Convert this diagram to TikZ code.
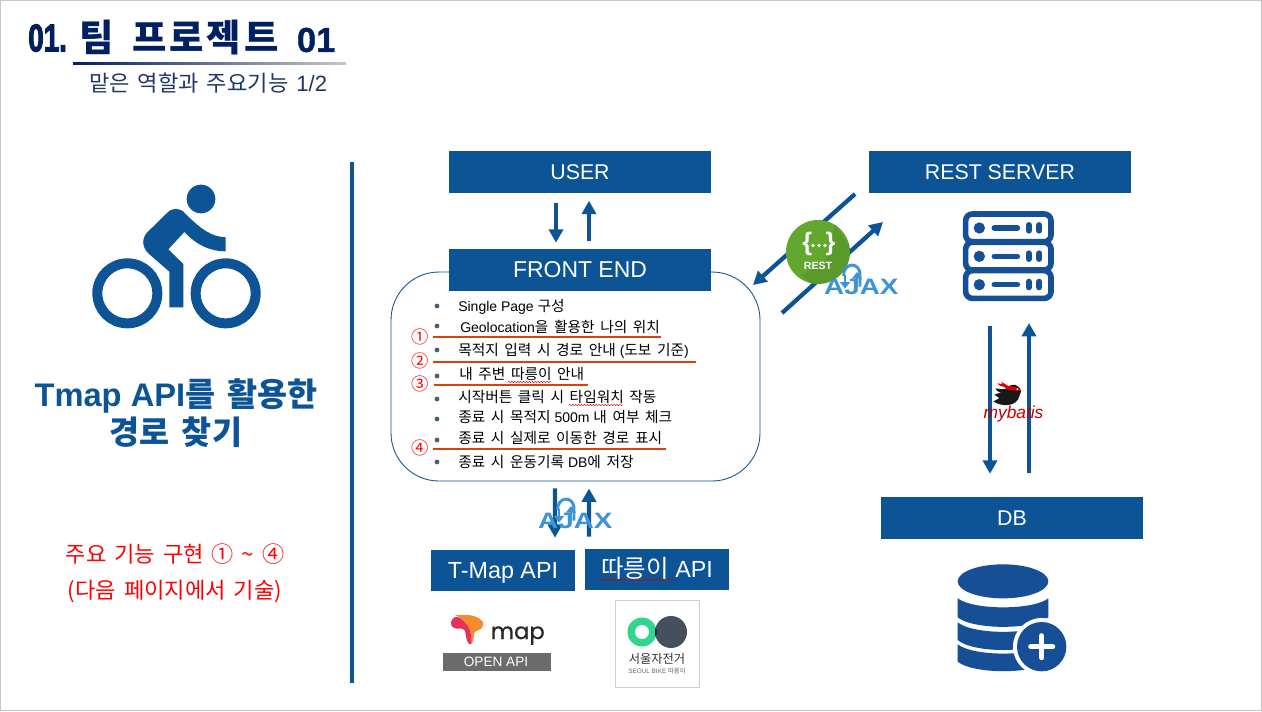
\documentclass[tikz,border=0pt]{standalone}
\usepackage{fontspec}
\usepackage{graphicx}
\usetikzlibrary{arrows.meta,decorations.pathmorphing}
\setmainfont{Liberation Sans}
\newfontfamily\krf{Noto Sans CJK KR}[WordSpace=1.6]
\newfontfamily\lkf{Noto Sans CJK KR}[WordSpace=1.7,Scale=1.05]
\newfontfamily\ttl{Noto Sans CJK KR}[WordSpace=1.6,LetterSpace=8]
\newfontfamily\numf{Liberation Sans}[UprightFont=* Bold,FakeBold=3]
\newfontfamily\pop{Poppins}[FakeBold=.5]
\newcommand\K[1]{{\lkf #1}}
\definecolor{bl}{HTML}{0C5496}
\definecolor{navy}{HTML}{002060}
\definecolor{sub}{HTML}{1F3864}
\definecolor{ora}{HTML}{D9420F}
\definecolor{ajx}{HTML}{3D93D6}
\definecolor{dbb}{HTML}{164F96}
\definecolor{bul}{HTML}{4A6070}
\tikzset{
  hbox/.style={fill=bl,text=white,inner sep=0,minimum height=31.5pt,text height=11.5pt,text depth=0pt,font=\fontsize{16}{18}\selectfont},
  item/.style={anchor=west,inner sep=0,font=\fontsize{10.5}{12}\selectfont,text=black},
  circ/.style={inner sep=0,text=red,font=\krf\fontsize{13}{14}\selectfont},
  arr/.style={draw=bl,line width=3.2pt,-{Triangle[width=10.5pt,length=10pt]}},
  oline/.style={draw=ora,line width=1.5pt},
  wav/.style={draw=red!80!black,line width=.35pt,decorate,decoration={snake,amplitude=.45pt,segment length=2.2pt}},
  pics/ajaxlogo/.style={code={
    \begin{scope}[x=.25pt,y=-.25pt]
      \node[inner sep=0,anchor=base,text=ajx,font=\bfseries\fontsize{16.7}{18}\selectfont] (-t) at (364,312) {\scalebox{1.25}[1]{AJAX}};
      \draw[ajx,line width=2.2pt] (311,258) .. controls (308,218) and (360,212) .. (360,255) -- (360,290);
      \draw[ajx,line width=1.8pt,-{Triangle[width=7.5pt,length=5pt]}] (315,254) -- (315,296);
      \draw[ajx,line width=1.8pt,-{Triangle[width=7.5pt,length=5pt]}] (351,292) -- (351,246);
    \end{scope}}}
}
\begin{document}
\begin{tikzpicture}[x=.75pt,y=-.75pt]
\useasboundingbox (0,0) rectangle (1262,711);
\fill[white] (0,0) rectangle (1262,711);
\draw[black!22,line width=.8pt] (.6,.6) rectangle (1261.4,710.4);

% title
\node[anchor=west,inner sep=0,text=navy,font=\numf\fontsize{29}{30}\selectfont] (num) at (28,38) {\scalebox{.72}[1]{01.}};
\node[anchor=west,inner sep=0,text=navy,font=\ttl\bfseries\fontsize{28}{30}\selectfont] (title) at (79,38) {팀 프로젝트 {\fontspec{Liberation Sans}[FakeBold=1]\fontsize{26}{30}\selectfont 01}};
\shade[left color=navy,right color=black!22] (73,62.5) rectangle (346,64.5);
\node[anchor=west,inner sep=0,text=sub,font=\krf\fontsize{16.6}{18}\selectfont] (subt) at (89,83) {맡은 역할과 주요기능 {\fontspec{Liberation Sans}1/2}};

% bike
\begin{scope}[shift={(70,170)},x=.25pt,y=-.25pt]
  \draw[bl,line width=7.5pt] (172,370) circle (90);
  \draw[bl,line width=7.5pt] (467,370) circle (90);
  \fill[bl] (393,87) circle (43);
  \fill[bl] (298,412) -- (340,412) -- (340,282) -- (295,238) -- (343,186)
    .. controls (380,225) and (420,244) .. (467,244) -- (467,202)
    .. controls (425,200) and (395,180) .. (345,130)
    .. controls (330,112) and (305,112) .. (290,130) -- (232,187)
    .. controls (215,205) and (215,230) .. (235,250) -- (298,305) -- cycle;
\end{scope}
\node[inner sep=0,align=center,text=bl,font=\bfseries\fontsize{24.5}{27}\selectfont] (head) at (176,413)
  {Tmap API{\krf\bfseries 를 활용한}\\[2pt]{\krf\bfseries 경로 찾기}};
\node[inner sep=0,text=red,font=\krf\fontsize{16.6}{18}\selectfont] (red1) at (175,554) {주요 기능 구현 ① \textasciitilde{} ④};
\node[inner sep=0,text=red,font=\krf\fontsize{16.6}{18}\selectfont] (red2) at (175,592) {(다음 페이지에서 기술)};
\draw[bl,line width=2.3pt] (352,162) -- (352,683);

% boxes
\node[hbox,minimum width=196.5pt] (user) at (580,171.5) {USER};
\node[draw=bl,line width=.65pt,fill=white,rounded corners=36pt,minimum width=276.75pt,minimum height=156.75pt,inner sep=0] (panel) at (575.5,376.5) {};
\node[hbox,minimum width=196.5pt,font=\fontsize{17.2}{18}\selectfont] (front) at (580,270) {FRONT END};
\node[hbox,minimum width=196.5pt] (rest) at (1000,171.5) {REST SERVER};
\node[hbox,minimum width=196.5pt] (db) at (1012,518) {DB};
\node[hbox,minimum width=108pt,minimum height=30.75pt,font=\fontsize{17.5}{18}\selectfont] (tmap) at (503,570.5) {T-Map API};
\node[hbox,minimum width=108pt,minimum height=30.75pt,font=\fontsize{17.5}{18}\selectfont] (bike) at (657,569.5) {\K{따릉이} API};
\draw[wav] (600,580) -- (674,580);

% list
\foreach \y in {306,326,350,376,399,419,440,462} \fill[bul] (437,\y) circle (2.4);
\node[item] (l1) at (458,307) {Single Page \K{구성}};
\node[item] (l2) at (460,327) {Geolocation\K{을 활용한 나의 위치}};
\node[item] (l3) at (458,351) {\K{목적지 입력 시 경로 안내} (\K{도보 기준})};
\node[item] (l4) at (459,374) {\K{내 주변 따릉이 안내}};
\node[item] (l5) at (458,397) {\K{시작버튼 클릭 시 타임워치 작동}};
\node[item] (l6) at (458,417) {\K{종료 시 목적지} 500m \K{내 여부 체크}};
\node[item] (l7) at (458,438) {\K{종료 시 실제로 이동한 경로 표시}};
\node[item] (l8) at (458,462) {\K{종료 시 운동기록} DB\K{에 저장}};
\draw[oline] (433,337) -- (661,337);
\draw[oline] (433,362) -- (696,362);
\draw[oline] (434,384.5) -- (588,384.5);
\draw[oline] (433,449) -- (666,449);
\draw[wav] (508,382) -- (552,382);
\draw[wav] (569,405) -- (623,405);
\node[circ] (c1) at (420,337) {①};
\node[circ] (c2) at (420,361) {②};
\node[circ] (c3) at (420,384) {③};
\node[circ] (c4) at (420,448) {④};

% vertical connectors
\draw[arr] ([xshift=-18pt,yshift=-7.5pt]user.south) -- ([xshift=-18pt,yshift=4.5pt]front.north);
\draw[arr] ([xshift=6.75pt,yshift=6pt]front.north) -- ([xshift=6.75pt,yshift=-6pt]user.south);
\draw[arr] ([xshift=-15.4pt,yshift=-5.25pt]panel.south) -- ([xshift=39pt,yshift=9pt]tmap.north);
\draw[arr] ([xshift=-51pt,yshift=9pt]bike.north) -- ([xshift=10.1pt,yshift=-5.25pt]panel.south);

% diagonal connectors
\coordinate (ra) at (855,194);
\coordinate (fa) at (753,285);
\coordinate (fb) at (782,313);
\coordinate (rb) at (883,222);
\draw[arr] (ra) -- (fa);
\draw[arr] (fb) -- (rb);

% REST badge
\definecolor{rg}{HTML}{62A82F}
\fill[rg] (818,252) circle (32);
\begin{scope}
  \clip (818,252) circle (32);
  \fill[black,opacity=.08] (835,225) -- (860,260) -- (820,290) -- (800,275) -- (825,262) -- cycle;
\end{scope}
\node[inner sep=0,text=white,font=\bfseries\fontsize{19}{20}\selectfont] (brace) at (819,244) {\{\hspace{10pt}\}};
\fill[white] (813,245.5) circle (1.8) (819,245.5) circle (1.8) (825,245.5) circle (1.8);
\node[inner sep=0,text=white,font=\bfseries\fontsize{7.9}{9}\selectfont] (resttxt) at (818,265.5) {REST};
\pic (ajaxa) at (740,190) {ajaxlogo};
\pic (ajaxb) at (454,424) {ajaxlogo};

% server icon
\begin{scope}[shift={(740,190)},x=.25pt,y=-.25pt]
  \foreach \d in {0,85,170}{
    \draw[dbb,line width=4.2pt,rounded corners=5pt] (677,72+\d) rectangle (933,155+\d);
    \fill[dbb] (718,114+\d) circle (17);
    \draw[dbb,line width=4.2pt,line cap=round] (763,114+\d) -- (832,114+\d);
    \draw[dbb,line width=4.4pt,line cap=round] (866,105+\d) -- (866,122+\d);
    \draw[dbb,line width=4.4pt,line cap=round] (898,105+\d) -- (898,122+\d);
  }
\end{scope}
\coordinate (srv) at (1008,302);
\draw[arr] ([xshift=-13.5pt,yshift=-18pt]srv) -- ([xshift=-16.5pt,yshift=17.25pt]db.north);
\draw[arr] ([xshift=12.75pt,yshift=18pt]db.north) -- ([xshift=15.75pt,yshift=-15.75pt]srv);

% mybatis
\begin{scope}[shift={(940,370)},x=.25pt,y=-.25pt]
  \fill[black!90] (243,65) .. controls (240,42) and (212,36) .. (203,55)
    .. controls (190,60) and (175,55) .. (166,56) .. controls (172,65) and (178,66) .. (183,68)
    .. controls (175,70) and (170,71) .. (163,74) .. controls (170,80) and (175,81) .. (178,84)
    .. controls (170,90) and (165,91) .. (160,94) .. controls (185,112) and (232,110) .. (238,78) -- cycle;
  \fill[red!85!black] (203,47) -- (240,54) -- (240,62) -- (204,60) .. controls (198,52) and (188,48) .. (180,47) -- (172,40) -- (188,42) -- (183,35) -- (195,42) -- cycle;
  \fill[white] (232,58) circle (3);
\end{scope}
\node[inner sep=0,text=red!75!black,font=\itshape\fontsize{13}{14}\selectfont] (mb) at (1013.5,414) {mybatis};

% db icon
\begin{scope}[shift={(940,555)},x=.25pt,y=-.25pt]
  \fill[dbb] (189,79) ellipse (136 and 51);
  \fill[dbb] (53,130) .. controls (100,166) and (280,166) .. (325,130) -- (325,187) .. controls (280,225) and (100,225) .. (53,187) -- cycle;
  \fill[dbb] (53,202) .. controls (100,240) and (280,240) .. (325,202) -- (325,255) .. controls (280,295) and (100,295) .. (53,255) -- cycle;
  \fill[dbb] (53,268) .. controls (100,305) and (280,305) .. (325,268) -- (325,320) .. controls (280,358) and (100,358) .. (53,320) -- cycle;
  \fill[white] (305,275) circle (86);
  \fill[dbb] (305,275) circle (74);
  \draw[white,line width=3.8pt,line cap=round] (272,275) -- (338,275) (305,242) -- (305,308);
\end{scope}

% tmap logo
\definecolor{tpink}{HTML}{E8305A}
\definecolor{torg}{HTML}{F58A2E}
\begin{scope}[shift={(445,610)},x=.25pt,y=-.25pt]
  \fill[torg] (30,15) -- (70,15) .. controls (95,18) and (118,30) .. (115,45)
    .. controls (112,62) and (92,60) .. (88,68) .. controls (85,85) and (85,100) .. (78,102)
    .. controls (82,90) and (78,75) .. (75,62) .. controls (72,50) and (62,40) .. (52,30)
    .. controls (42,20) and (35,17) .. (30,15) -- cycle;
  \fill[tpink] (22,28) .. controls (30,16) and (42,20) .. (52,30) .. controls (62,40) and (72,50) .. (75,62)
    .. controls (78,75) and (82,90) .. (78,102) .. controls (70,105) and (66,95) .. (62,75)
    .. controls (62,62) and (58,56) .. (50,56) -- (35,56) .. controls (20,55) and (12,40) .. (22,28) -- cycle;
\end{scope}
\fill[black!58] (443,653) rectangle (551,671);
\node[anchor=base west,inner sep=0,text=black!85,font=\pop\fontsize{17}{20}\selectfont] (maptxt) at (490.5,639) {map};
\node[inner sep=0,text=white,font=\fontsize{10.2}{12}\selectfont] (openapi) at (496,662) {OPEN API};

% seoul bike logo
\definecolor{sgr}{HTML}{2FD68C}
\definecolor{sdk}{HTML}{44505E}
\draw[black!18,line width=.7pt] (615,600) rectangle (699,687);
\fill[sgr] (642,632) circle (14.5);
\fill[sdk] (671,632) circle (16);
\begin{scope}
  \clip (671,632) circle (16);
  \fill[black!85!blue] (642,632) circle (14.5);
\end{scope}
\fill[white] (642,632) circle (7);
\node[inner sep=0,text=black!80,font=\krf\fontsize{9.2}{12}\selectfont] (seoul) at (657,659) {서울자전거};
\node[inner sep=0,text=black!60,font=\fontsize{4.8}{6}\selectfont] (seoulb) at (657,671) {SEOUL BIKE {\krf 따릉이}};
\end{tikzpicture}
\end{document}
